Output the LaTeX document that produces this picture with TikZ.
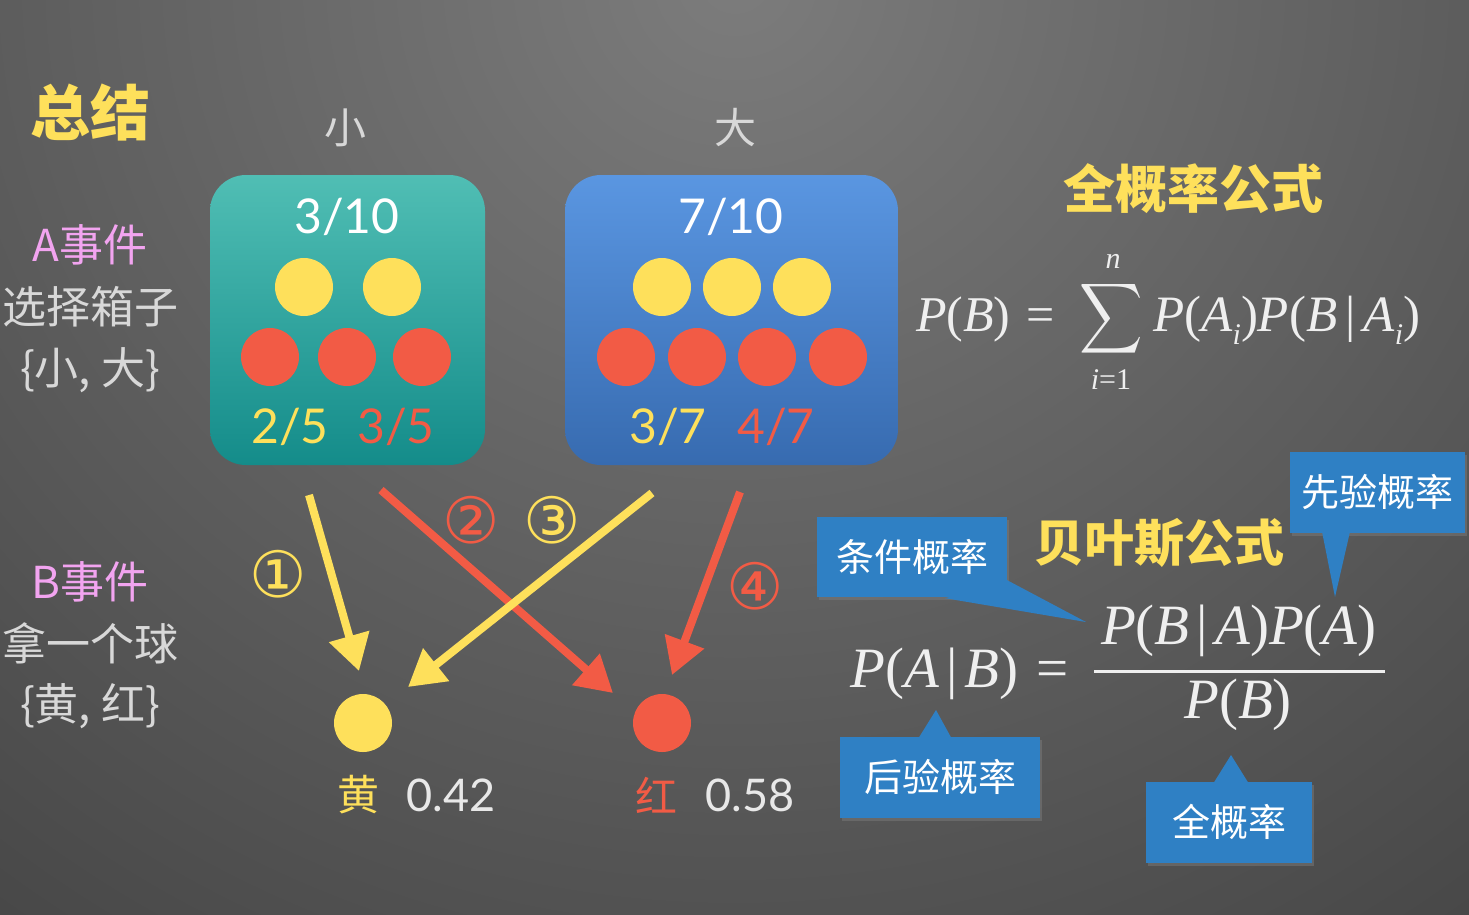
\documentclass[tikz,border=0pt]{standalone}
\usepackage{fontspec}
\usetikzlibrary{arrows.meta,shadows,calc}
\newfontfamily\cjk{Noto Sans CJK SC}
\newfontfamily\lat{Lato}
\newfontfamily\tms{Liberation Serif}
\newfontfamily\dv{DejaVu Sans}
\newcommand\fs[1]{\fontsize{#1}{#1}\selectfont}
\newcommand\I[1]{\textit{#1}}
\newcommand\subi{\raisebox{-0.27em}{\fs{30}\itshape i}}
\definecolor{bgA}{HTML}{7C7C7C}
\definecolor{bgB}{HTML}{545454}
\definecolor{bgC}{HTML}{2A2A2A}
\definecolor{yel}{HTML}{FEE05B}
\definecolor{red1}{HTML}{F25B45}
\definecolor{pink1}{HTML}{F2A4F0}
\definecolor{lgray}{HTML}{D8D8D8}
\definecolor{fcol}{HTML}{EFEFEF}
\definecolor{tealA}{HTML}{50BEB4}
\definecolor{tealB}{HTML}{148C8A}
\definecolor{blueA}{HTML}{5A96E1}
\definecolor{blueB}{HTML}{376BB0}
\definecolor{cblue}{HTML}{2F80C4}
\pgfdeclareradialshading{bgshade}{\pgfpoint{0bp}{0bp}}{color(0bp)=(bgA); color(12bp)=(bgB); color(25bp)=(bgC); color(50bp)=(bgC)}
\tikzset{
  ball/.style={circle, inner sep=0pt, minimum size=58pt},
  yb/.style={ball, fill=yel},
  rb/.style={ball, fill=red1},
  lab/.style={font=\cjk\fs{44}, text=lgray, inner sep=0pt},
  evt/.style={font=\cjk\fs{44}, text=pink1, inner sep=0pt},
  ttl/.style={font=\cjk\bfseries\fs{52}, text=yel, inner sep=0pt},
  num/.style={font=\lat\fs{48}, inner sep=0pt},
  boxstyle/.style={minimum width=275pt, minimum height=290pt, rounded corners=36pt, inner sep=0pt},
  arr/.style={line width=8pt, -{Triangle[length=36pt,width=40pt]}},
  circnum/.style={font=\dv\fs{64}, inner sep=0pt},
  formula/.style={font=\tms\fs{#1}, text=fcol, inner sep=0pt},
  callout/.style={fill=cblue, text=white, font=\cjk\fs{38}, inner sep=0pt,
    drop shadow={shadow xshift=2pt, shadow yshift=-3pt, opacity=0.45}},
}
\begin{document}
\begin{tikzpicture}[x=1pt,y=-1pt]
\useasboundingbox (0,0) rectangle (1469,914);
% background
\fill[bgC] (0,0) rectangle (1469,914);
\begin{scope}
\clip (0,0) rectangle (1469,914);
\shade[shading=bgshade] (735,-20) ellipse (1950 and 1850);
\end{scope}

% titles and labels
\node[ttl, font=\cjk\bfseries\fs{60}] (zj) at (90,113) {总结};
\node[lab, font=\cjk\fs{42}] (xiao) at (345,128) {小};
\node[lab, font=\cjk\fs{42}] (da) at (735,128) {大};
\node[evt] (aev) at (90,245) {A事件};
\node[lab] (xz) at (90,307) {选择箱子};
\node[lab] (xd) at (90,370) {\{小, 大\}};
\node[evt] (bev) at (90,582) {B事件};
\node[lab] (nq) at (90,643) {拿一个球};
\node[lab] (hh) at (90,706) {\{黄, 红\}};

% boxes
\node[boxstyle, top color=tealA, bottom color=tealB] (small) at (347.5,320) {};
\node[boxstyle, minimum width=333pt, top color=blueA, bottom color=blueB] (big) at (731.5,320) {};

\node[num, text=white] (p1) at (347,217) {3/10};
\node[yb] (s1) at (304,287) {};
\node[yb] (s2) at (392,287) {};
\node[rb] (s3) at (270,357) {};
\node[rb] (s4) at (347,357) {};
\node[rb] (s5) at (422,357) {};
\node[num, text=yel] (q1) at (290,427) {2/5};
\node[num, text=red1] (q2) at (396,427) {3/5};

\node[num, text=white] (p2) at (731,217) {7/10};
\node[yb] (b1) at (662,287) {};
\node[yb] (b2) at (732,287) {};
\node[yb] (b3) at (802,287) {};
\node[rb] (b4) at (626,357) {};
\node[rb] (b5) at (697,357) {};
\node[rb] (b6) at (767,357) {};
\node[rb] (b7) at (838,357) {};
\node[num, text=yel] (q3) at (668,427) {3/7};
\node[num, text=red1] (q4) at (776,427) {4/7};

% outcome balls
\node[yb] (yball) at (363,723) {};
\node[rb] (rball) at (662,723) {};
\node[font=\cjk\fs{42}, text=yel, inner sep=0pt] (yl) at (358,795) {黄};
\node[font=\lat\fs{45}, text=lgray!60!white, inner sep=0pt] (yv) at (451,795) {0.42};
\node[font=\cjk\fs{42}, text=red1, inner sep=0pt] (rl) at (656,795) {红};
\node[font=\lat\fs{45}, text=lgray!60!white, inner sep=0pt] (rv) at (750,795) {0.58};

% arrows
\coordinate (a1s) at (309,495);
\coordinate (a1e) at (359,671);
\coordinate (a2s) at (381,490);
\coordinate (a2e) at (613,693);
\coordinate (a3s) at (652,493);
\coordinate (a3e) at (408,687);
\coordinate (a4s) at (740,492);
\coordinate (a4e) at (672,675);
\draw[arr, yel] (a1s) -- (a1e);
\draw[arr, red1] (a2s) -- (a2e);
\draw[arr, yel] (a3s) -- (a3e);
\draw[arr, red1] (a4s) -- (a4e);
\node[circnum, text=yel] (n1) at (278,574) {①};
\node[circnum, text=red1] (n2) at (471,520) {②};
\node[circnum, text=yel] (n3) at (552,520) {③};
\node[circnum, text=red1] (n4) at (755,586) {④};

% total probability formula
\node[ttl] (tpt) at (1193,189) {全概率公式};
\node[formula=50, anchor=base west] (tpl) at (916,331) {\I{P}(\I{B})\hspace{16pt}=};
\node[inner sep=0pt, text=fcol] (sig) at (1111,319) {\scalebox{4.4}[4.9]{$\displaystyle\sum$}};
\node[formula=30] (sn) at (1113,261) {\I{n}};
\node[formula=30] (si) at (1111,380) {\I{i}=1};
\node[formula=51, anchor=base west] (tpr) at (1153,331) {\I{P}(\I{A}\subi)\I{P}(\I{B}\hspace{8pt}|\hspace{8pt}\I{A}\subi)};

% Bayes formula
\node[ttl, font=\cjk\bfseries\fs{50}] (byt) at (1159,543) {贝叶斯公式};
\node[formula=57, anchor=base west] (bl) at (850,687) {\I{P}(\I{A}\hspace{7pt}|\hspace{7pt}\I{B})\hspace{18pt}=};
\node[formula=57, anchor=base] (bn) at (1239,644) {\I{P}(\I{B}\hspace{7pt}|\hspace{7pt}\I{A})\I{P}(\I{A})};
\node[formula=57, anchor=base] (bd) at (1238,718) {\I{P}(\I{B})};
\coordinate (fl1) at (1094,671);
\coordinate (fl2) at (1385,671);
\draw[fcol, line width=3pt] (fl1) -- (fl2);

% callouts
\node[callout, minimum width=175pt, minimum height=81pt] (cprior) at (1377,492) {先验概率};
\coordinate (tprior) at (1335,597);
\fill[cblue] ($(cprior.south)+(-55,-1)$) -- (tprior) -- ($(cprior.south)+(-27,-1)$) -- cycle;

\node[callout, minimum width=190pt, minimum height=80pt] (ccond) at (912,557) {条件概率};
\coordinate (tcond) at (1086,622);
\fill[cblue] ($(ccond.south east)+(-62,1)$) -- (tcond) -- ($(ccond.south east)+(0,-17)$) -- cycle;

\node[callout, minimum width=200pt, minimum height=81pt] (cpost) at (940,777) {后验概率};
\coordinate (tpost) at (936,710);
\fill[cblue] ($(cpost.north)+(-21,1)$) -- (tpost) -- ($(cpost.north)+(11,1)$) -- cycle;

\node[callout, minimum width=166pt, minimum height=81pt] (ctotal) at (1229,822) {全概率};
\coordinate (ttotal) at (1231,755);
\fill[cblue] ($(ctotal.north)+(-15,1)$) -- (ttotal) -- ($(ctotal.north)+(19,1)$) -- cycle;
\end{tikzpicture}
\end{document}
